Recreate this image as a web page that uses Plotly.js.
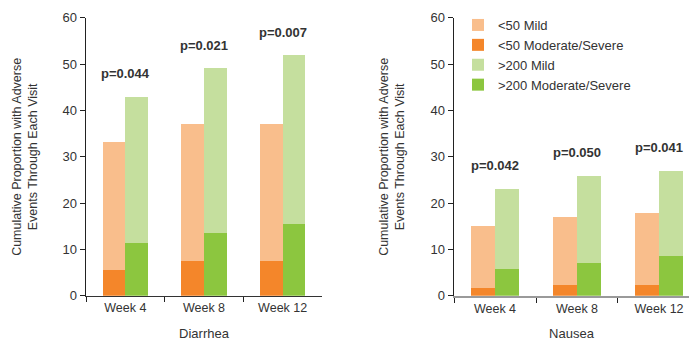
<!DOCTYPE html>
<html>
<head>
<meta charset="utf-8">
<script src="https://cdn.plot.ly/plotly-3.0.1.min.js"></script>
<style>html,body{margin:0;padding:0;background:#fff;}#chart{width:689px;height:341px;}</style>
</head>
<body>
<div id="chart"></div>
<script>
// ---- data ----
const weeks = ['Week 4', 'Week 8', 'Week 12'];
// Diarrhea: cumulative totals and moderate/severe portions
const diarLt50Total = [33.2, 37.0, 37.0];
const diarLt50Mod   = [5.5, 7.5, 7.5];
const diarGt200Total = [42.9, 49.1, 51.9];
const diarGt200Mod   = [11.4, 13.5, 15.5];
const diarP = ['p=0.044', 'p=0.021', 'p=0.007'];
// Nausea
const nausLt50Total = [15.0, 17.0, 17.8];
const nausLt50Mod   = [1.7, 2.3, 2.3];
const nausGt200Total = [23.0, 25.8, 26.9];
const nausGt200Mod   = [5.8, 7.05, 8.6];
const nausP = ['p=0.042', 'p=0.050', 'p=0.041'];

const seriesNames = ['<50 Mild', '<50 Moderate/Severe', '>200 Mild', '>200 Moderate/Severe'];
const colors = ['#F9BE8C', '#F4862A', '#C5DF9E', '#8CC63F'];

const BW = 0.29;
const sub = (a, b) => a.map((v, i) => +(v - b[i]).toFixed(2));

function panel(lt50Total, lt50Mod, gt200Total, gt200Mod, xa, ya, showLeg) {
  const common = {type: 'bar', x: weeks, xaxis: xa, yaxis: ya, width: BW,
    hoverinfo: 'y', marker: {line: {width: 0}}};
  return [
    Object.assign({}, common, {name: seriesNames[0], y: sub(lt50Total, lt50Mod), base: lt50Mod,
      offset: -BW, marker: {color: colors[0]}, showlegend: showLeg, legendgroup: 'a'}),
    Object.assign({}, common, {name: seriesNames[1], y: lt50Mod, base: 0,
      offset: -BW, marker: {color: colors[1]}, showlegend: showLeg, legendgroup: 'b'}),
    Object.assign({}, common, {name: seriesNames[2], y: sub(gt200Total, gt200Mod), base: gt200Mod,
      offset: 0, marker: {color: colors[2]}, showlegend: showLeg, legendgroup: 'c'}),
    Object.assign({}, common, {name: seriesNames[3], y: gt200Mod, base: 0,
      offset: 0, marker: {color: colors[3]}, showlegend: showLeg, legendgroup: 'd'})
  ];
}

const traces = [].concat(
  panel(diarLt50Total, diarLt50Mod, diarGt200Total, diarGt200Mod, 'x', 'y', true),
  panel(nausLt50Total, nausLt50Mod, nausGt200Total, nausGt200Mod, 'x2', 'y2', false)
);

const FONT = 'Liberation Sans, Arial, Helvetica, sans-serif';
const TXT = '#333333';

const annotations = [];
weeks.forEach((w, i) => {
  annotations.push({xref: 'x', yref: 'y', x: w, y: diarGt200Total[i] + 5, text: diarP[i],
    showarrow: false, font: {family: FONT, size: 13, color: TXT, weight: 'bold'}, yanchor: 'middle'});
  annotations.push({xref: 'x2', yref: 'y2', x: w, y: nausGt200Total[i] + 5, text: nausP[i],
    showarrow: false, font: {family: FONT, size: 13, color: TXT, weight: 'bold'}, yanchor: 'middle'});
});
const yTitle = 'Cumulative Proportion with Adverse<br>Events Through Each Visit';
annotations.push({xref: 'paper', yref: 'paper', x: 25 / 689, y: 0.54, text: yTitle, textangle: -90,
  showarrow: false, font: {family: FONT, size: 12.5, color: TXT}, xanchor: 'center', yanchor: 'middle'});
annotations.push({xref: 'paper', yref: 'paper', x: 392 / 689, y: 0.54, text: yTitle, textangle: -90,
  showarrow: false, font: {family: FONT, size: 12.5, color: TXT}, xanchor: 'center', yanchor: 'middle'});

const yDom = [(341 - 295.7) / 341, (341 - 17.7) / 341];
const yax = {range: [0, 60], dtick: 10, showgrid: false, zeroline: false, showline: true,
  linecolor: '#222', linewidth: 1.5, ticks: 'outside', ticklen: 5, tickcolor: '#222',
  tickfont: {family: FONT, size: 13, color: TXT}, domain: yDom, fixedrange: true};
const xax = {type: 'category', tickson: 'boundaries', showgrid: false, zeroline: false, showline: true,
  ticks: 'outside', ticklen: 5, tickcolor: '#222',
  tickfont: {family: FONT, size: 12.5, color: TXT}, fixedrange: true,
  title: {font: {family: FONT, size: 13, color: TXT}, standoff: 14}};

const layout = {
  width: 689, height: 341,
  margin: {l: 0, r: 0, t: 0, b: 0},
  paper_bgcolor: '#fff', plot_bgcolor: '#fff',
  barmode: 'overlay',
  bargap: 0,
  showlegend: true,
  legend: {x: 458 / 689, y: (341 - 10) / 341, xanchor: 'left', yanchor: 'top',
    font: {family: FONT, size: 13, color: TXT}, traceorder: 'normal', bgcolor: 'rgba(0,0,0,0)',
    tracegroupgap: 0},
  xaxis: Object.assign({}, xax, {domain: [86 / 689, 322 / 689], range: [-0.5, 2.5], anchor: 'y',
    linecolor: '#333', linewidth: 1.5, title: Object.assign({}, xax.title, {text: 'Diarrhea'})}),
  yaxis: Object.assign({}, yax, {anchor: 'x'}),
  xaxis2: Object.assign({}, xax, {domain: [454 / 689, 1], range: [-0.5, 2.366], anchor: 'y2',
    linecolor: '#9a9a9a', linewidth: 2, title: Object.assign({}, xax.title, {text: 'Nausea'})}),
  yaxis2: Object.assign({}, yax, {anchor: 'x2'}),
  annotations: annotations
};

Plotly.newPlot('chart', traces, layout, {displayModeBar: false, staticPlot: true});
</script>
</body>
</html>
